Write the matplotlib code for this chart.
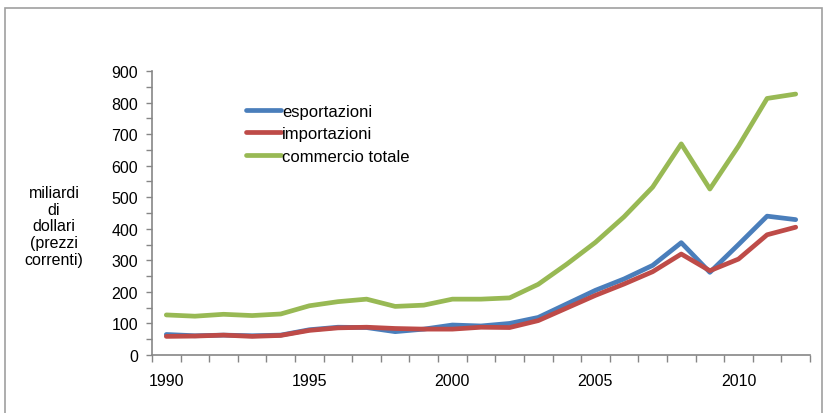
import matplotlib
matplotlib.use("Agg")
import matplotlib.pyplot as plt
from matplotlib.patches import Rectangle
from matplotlib.ticker import MultipleLocator, FixedLocator

years = list(range(1990, 2013))
esportazioni = [65, 61, 63, 61, 63, 80, 88, 87, 74, 82, 95, 92, 100, 119, 162, 205, 241, 284, 356, 262, 350, 440, 429]
importazioni = [59, 60, 63, 59, 62, 78, 86, 88, 84, 82, 82, 88, 87, 109, 149, 189, 225, 264, 320, 267, 304, 381, 405]
commercio_totale = [127, 123, 129, 125, 130, 156, 169, 177, 154, 158, 177, 177, 181, 224, 288, 357, 438, 532, 669, 526, 662, 813, 827]
tick_years = [1990, 1995, 2000, 2005, 2010]
series_names = ["esportazioni", "importazioni", "commercio totale"]
ylabel_text = "miliardi\ndi\ndollari\n(prezzi\ncorrenti)"

plt.rcParams['font.family'] = ['Liberation Sans', 'DejaVu Sans']

fig = plt.figure(figsize=(8.26, 4.14), dpi=100)
ax = fig.add_axes([152/826, 58/414, 658/826, 284/414])

x = list(range(len(years)))
colors = ["#4A7EBB", "#BE4B48", "#98B954"]
for vals, name, c in zip([esportazioni, importazioni, commercio_totale], series_names, colors):
    ax.plot(x, vals, color=c, lw=3.4, label=name, solid_capstyle='round', solid_joinstyle='round')

ax.set_xlim(-0.5, len(years) - 0.5)
ax.set_ylim(0, 900)
ax.yaxis.set_major_locator(MultipleLocator(100))
ax.yaxis.set_minor_locator(MultipleLocator(50))
ax.xaxis.set_major_locator(FixedLocator([years.index(y) for y in tick_years]))
ax.set_xticklabels([str(y) for y in tick_years])
ax.xaxis.set_minor_locator(FixedLocator([i - 0.5 for i in range(len(years) + 1)]))

gray = "#868686"
for s in ["top", "right"]:
    ax.spines[s].set_visible(False)
for s in ["left", "bottom"]:
    ax.spines[s].set_color(gray)
    ax.spines[s].set_linewidth(1.2)
ax.tick_params(axis='y', which='both', direction='out', length=4, width=1, color=gray, labelsize=11.5, pad=6)
ax.tick_params(axis='x', which='major', direction='out', length=0, labelsize=11.5, pad=13)
ax.tick_params(axis='x', which='minor', direction='out', length=5, width=1, color=gray)

leg = ax.legend(loc='upper left', bbox_to_anchor=(0.143, 0.885), frameon=False, fontsize=12,
                handlelength=2.1, handletextpad=0.05, labelspacing=0.45, borderaxespad=0,
                borderpad=0)

fig.text(54/826, 1 - 227/414, ylabel_text, ha='center', va='center', fontsize=11.5, linespacing=1.15)

fig.patches.append(Rectangle((5/826, -0.05), 817/826, 1 - 9/414 + 0.05, transform=fig.transFigure,
                             fill=False, edgecolor="#A0A0A0", lw=1.2))

fig.savefig("out.png", dpi=100)
